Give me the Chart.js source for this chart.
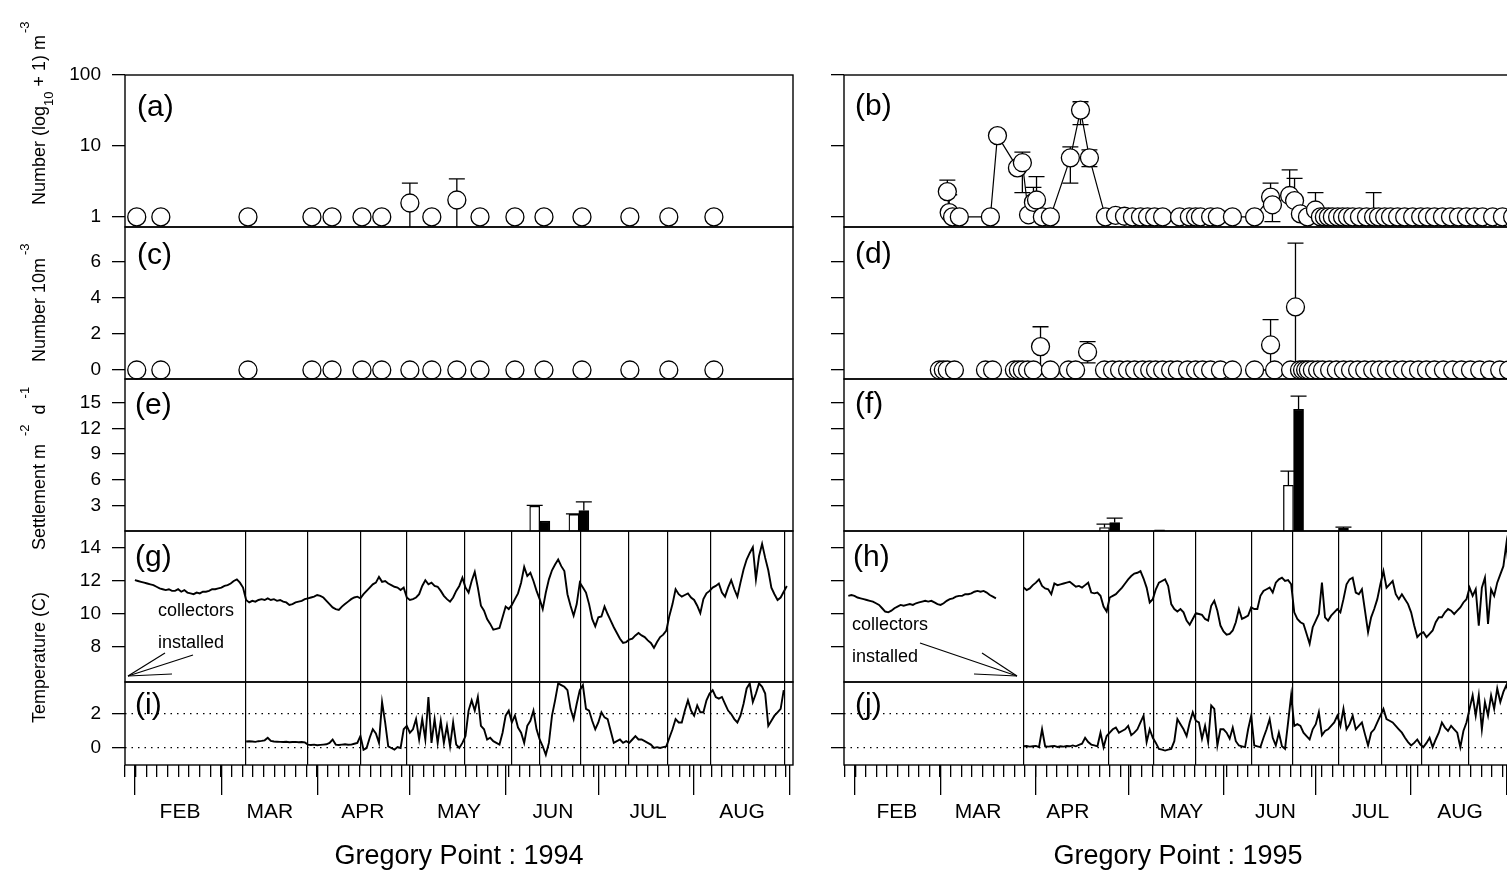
<!DOCTYPE html>
<html lang="en">
<head>
<meta charset="UTF-8" />
<title>Gregory Point : 1994 / 1995</title>
<script src="https://cdn.jsdelivr.net/npm/chart.js@4/dist/chart.umd.min.js"></script>
<style>
  html, body { margin: 0; padding: 0; background: #fff; overflow: hidden; }
  #stage { position: relative; width: 1507px; height: 870px; overflow: hidden; background: #fff; }
  #stage canvas { position: absolute; left: 0; top: 0; }
</style>
</head>
<body>
<div id="stage"></div>
<script>
// ---------- axis data ----------
const monthNames = ['FEB', 'MAR', 'APR', 'MAY', 'JUN', 'JUL', 'AUG'];
const monthMidDays94 = [46.6, 75.7, 105.8, 136.9, 167.3, 198.1, 228.5];
const monthMidDays95 = [45.8, 72.2, 101.4, 138.3, 168.9, 199.8, 228.9];
const monthStartDays = [32, 60, 91, 121, 152, 182, 213, 244];
const logTicks = [1, 10, 100];
const densTicks = [0, 2, 4, 6];
const settleTicks = [3, 6, 9, 12, 15];
const tempTicks = [8, 10, 12, 14];
const diffTicks = [0, 2];

// ---------- 1994 ----------
const sampleDays94 = [32.6, 40.4, 68.6, 89.3, 95.8, 105.5, 111.9, 121.0, 128.1, 136.2, 143.7, 155.0, 164.4, 176.7, 192.2, 204.8, 219.4];
const numLog94 = [1, 1, 1, 1, 1, 1, 1, 1.57, 1, 1.73, 1, 1, 1, 1, 1, 1, 1];
const numLog94Err = [[121.0, 1.57, 3.0, 0.6], [136.2, 1.73, 3.43, 0.6]]; // day, mean, upper, lower
const num10m94 = [0, 0, 0, 0, 0, 0, 0, 0, 0, 0, 0, 0, 0, 0, 0, 0, 0];

const settleOpenDays94 = [161.4, 174.1];
const settleOpen94 = [2.9, 1.94];
const settleFilledDays94 = [164.7, 177.3];
const settleFilled94 = [1.15, 2.4];
const settle94Err = [[161.4, 2.9, 3.0, null], [174.1, 1.94, 2.0, null], [177.3, 2.4, 3.4, null]];

const collectorDays94 = [67.9, 88, 105.1, 120, 138.8, 154, 163, 176.3, 191.9, 204.5, 218.4, 242.4];

const temp94Start = 32; // one value per day
const temp94 = [
  12.05, 12.0, 11.95, 11.9, 11.85, 11.8, 11.75, 11.65, 11.55, 11.5,
  11.45, 11.5, 11.4, 11.4, 11.5, 11.35, 11.45, 11.3, 11.25, 11.2,
  11.3, 11.25, 11.35, 11.35, 11.4, 11.5, 11.5, 11.55, 11.6, 11.7,
  11.75, 11.85, 12.0, 12.1, 11.9, 11.6, 10.85, 10.7, 10.8, 10.75,
  10.85, 10.9, 10.85, 10.95, 10.85, 10.9, 10.8, 10.85, 10.75, 10.7,
  10.55, 10.6, 10.7, 10.75, 10.8, 10.9, 10.95, 11.0, 11.05, 11.15,
  11.1, 11.0, 10.8, 10.6, 10.4, 10.3, 10.25, 10.45, 10.6, 10.75,
  10.9, 11.0, 11.05, 10.95, 11.2, 11.4, 11.6, 11.8, 11.9, 12.25,
  11.95, 12.0, 11.85, 11.75, 11.65, 11.6, 11.45, 11.6, 11.0, 10.85,
  10.9, 11.0, 11.2, 11.7, 12.05, 11.8, 11.9, 11.7, 11.65, 11.4,
  11.1, 10.9, 10.75, 11.0, 11.4, 11.7, 12.2, 11.6, 11.3, 12.0,
  12.55, 11.6, 10.5, 10.2, 9.7, 9.4, 9.05, 9.1, 9.15, 9.8,
  10.45, 10.3, 10.55, 10.9, 11.25, 11.9, 12.85, 12.3, 12.5, 12.0,
  11.4, 10.9, 10.3, 11.3, 12.1, 12.65, 13.0, 13.3, 12.9, 12.6,
  11.2, 10.5, 9.9, 10.6, 11.9, 11.6, 11.3, 10.6, 9.7, 9.25,
  9.8, 9.85, 10.45, 10.0, 9.6, 9.2, 8.85, 8.5, 8.25, 8.3,
  8.45, 8.5, 8.7, 8.85, 8.7, 8.6, 8.4, 8.25, 7.95, 8.3,
  8.6, 8.75, 9.0, 9.9, 10.6, 11.5, 11.2, 11.05, 11.15, 11.25,
  11.0, 10.85, 10.5, 10.05, 10.9, 11.25, 11.4, 11.6, 11.7, 11.85,
  11.3, 11.05, 11.6, 12.05, 11.5, 11.05, 11.9, 12.7, 13.3, 13.7,
  14.05, 12.1, 13.5, 14.25, 13.4, 12.65, 11.6, 11.2, 10.85, 11.0,
  11.35, 11.7
];

const diff94Start = 68;
const diff94 = [
  0.38, 0.4, 0.38, 0.36, 0.4, 0.42, 0.45, 0.6, 0.42, 0.38,
  0.37, 0.36, 0.35, 0.37, 0.34, 0.35, 0.36, 0.34, 0.35, 0.33,
  0.2, 0.18, 0.2, 0.16, 0.18, 0.2, 0.22, 0.3, 0.5, 0.2,
  0.18, 0.2, 0.22, 0.19, 0.2, 0.25, 0.3, 0.7, -0.1, 0.0,
  0.6, 1.1, 0.85, 0.3, 2.7, 1.5, 0.1, 0.0, -0.1, 0.05,
  0.0, 1.1, 1.3, 0.9, 1.1, 1.7, 0.5, 1.7, 0.5, 3.0,
  0.3, 1.7, 0.3, 1.6, 0.3, 1.3, 0.1, 1.5, 0.2, 0.0,
  0.3, 0.7, 2.2, 2.8, 2.2, 3.0, 1.3, 1.1, 0.5, 0.6,
  0.4, 0.3, 0.2, 0.9, 1.9, 2.2, 1.5, 1.9, 1.2, 0.9,
  0.3, 1.3, 1.6, 2.2, 1.1, 0.5, 0.1, -0.4, 0.3, 1.9,
  2.8, 3.8, 3.7, 3.6, 3.4, 2.3, 1.7, 2.6, 3.4, 3.7,
  2.3, 2.2, 1.6, 1.1, 1.5, 2.1, 1.8, 1.7, 1.0, 0.3,
  0.4, 0.5, 0.3, 0.4, 0.3, 0.5, 0.7, 0.5, 0.5, 0.4,
  0.3, 0.2, 0.0, 0.05, 0.0, 0.05, 0.1, 0.6, 1.1, 1.7,
  1.5, 1.5, 2.2, 2.8, 2.2, 1.9, 2.5, 2.1, 2.1, 2.8,
  3.2, 3.4, 3.0, 2.9, 3.0, 2.6, 2.2, 2.0, 1.7, 1.5,
  1.9, 2.6, 3.5, 3.8, 2.7, 3.2, 3.8, 3.6, 3.2, 1.3,
  1.6, 1.9, 2.1, 2.3, 3.4
];

// ---------- 1995 ----------
const numDays95 = [
  62.2, 62.8, 63.9, 66.1, 76.2, 78.5, 85.0, 86.6, 88.6, 90.2,
  91.2, 93.1, 95.7, 102.2, 105.5, 108.4, 113.6, 116.9, 119.8, 122.4,
  125.0, 127.3, 129.6, 132.2, 137.7, 140.9, 142.9, 144.5, 147.8, 150.0,
  154.9, 162.1, 167.3, 167.9, 173.5, 175.1, 177.0, 179.3, 181.9, 183.5,
  184.8, 186.1, 187.4, 189.1, 190.7, 192.3, 194.0, 196.2, 198.5, 200.8,
  202.4, 204.4, 206.3, 208.6, 210.9, 213.5, 216.1, 218.3, 220.6, 223.2,
  225.8, 228.4, 231.0, 233.6, 236.2, 239.5, 242.7, 246.0
];
const numLog95 = [
  2.27, 1.15, 1.0, 1.0, 1.0, 14, 4.9, 5.8, 1.07, 1.6,
  1.73, 1.0, 1.0, 6.8, 32, 6.8, 1.0, 1.05, 1.02, 1.0,
  1.0, 1.0, 1.0, 1.0, 1.0, 1.0, 1.0, 1.0, 1.0, 1.0,
  1.0, 1.0, 1.9, 1.48, 2.0, 1.7, 1.1, 1.0, 1.25, 1.0,
  1.0, 1.0, 1.0, 1.0, 1.0, 1.0, 1.0, 1.0, 1.0, 1.0,
  1.0, 1.0, 1.0, 1.0, 1.0, 1.0, 1.0, 1.0, 1.0, 1.0,
  1.0, 1.0, 1.0, 1.0, 1.0, 1.0, 1.0, 1.0
];
const numLog95Err = [
  [62.2, 2.27, 3.3, null], [62.8, 1.15, 2.05, null], [86.6, 5.8, 8.2, 2.2], [90.2, 1.6, 2.6, null],
  [91.2, 1.73, 3.7, null], [102.2, 6.8, 9.7, 3.0], [105.5, 32, 42, 20], [108.4, 6.8, 8.8, 5.1],
  [167.3, 1.9, 3.0, null], [167.9, 1.48, null, 0.86], [173.5, 2.0, 4.6, null], [175.1, 1.7, 3.5, null],
  [181.9, 1.25, 2.2, null], [200.8, 1.0, 2.2, null]
];

const densDays95 = [
  59.6, 60.9, 62.2, 64.5, 74.6, 76.9, 84.0, 85.3, 86.6, 88.3,
  90.2, 92.5, 95.7, 101.6, 103.9, 107.8, 113.3, 115.9, 118.2, 120.8,
  123.1, 125.7, 128.0, 129.9, 132.2, 134.8, 137.0, 140.3, 142.9, 145.2,
  147.8, 151.0, 154.9, 162.1, 167.3, 168.6, 173.8, 175.4, 176.7, 177.7,
  178.7, 179.6, 180.9, 182.6, 184.2, 186.5, 188.7, 191.0, 193.3, 195.6,
  197.9, 200.5, 202.7, 205.0, 207.6, 210.2, 212.8, 215.4, 218.0, 220.6,
  223.5, 226.5, 229.4, 232.3, 235.3, 238.5, 241.8, 244.7
];
const dens95 = [
  0, 0, 0, 0, 0, 0, 0, 0, 0, 0,
  0, 1.3, 0, 0, 0, 1.0, 0, 0, 0, 0,
  0, 0, 0, 0, 0, 0, 0, 0, 0, 0,
  0, 0, 0, 0, 1.39, 0, 0, 3.5, 0, 0,
  0, 0, 0, 0, 0, 0, 0, 0, 0, 0,
  0, 0, 0, 0, 0, 0, 0, 0, 0, 0,
  0, 0, 0, 0, 0, 0, 0, 0
];
const dens95Err = [[92.5, 1.3, 2.4, 0], [107.8, 1.0, 1.57, 0.4], [167.3, 1.39, 2.8, 0], [175.4, 3.5, 7.05, 0]];

const settleOpenDays95 = [113.3, 173.1];
const settleOpen95 = [0.4, 5.35];
const settleFilledDays95 = [116.6, 131.2, 176.4, 191.0];
const settleFilled95 = [1.0, 0.15, 14.26, 0.3];
const settle95Err = [[113.3, 0.4, 0.8, null], [116.6, 1.0, 1.5, null], [173.1, 5.35, 7.0, null], [176.4, 14.26, 15.8, null], [191.0, 0.3, 0.45, null]];

const collectorDays95 = [87, 114.6, 129.2, 142.9, 161.1, 174.4, 189.4, 203.4, 216.4, 231.7, 244.3];

const temp95aStart = 30;
const temp95a = [
  11.1, 11.15, 11.1, 11.0, 10.95, 10.9, 10.85, 10.8, 10.75, 10.65,
  10.55, 10.35, 10.15, 10.1, 10.2, 10.35, 10.45, 10.55, 10.5, 10.55,
  10.6, 10.55, 10.65, 10.7, 10.75, 10.8, 10.75, 10.8, 10.7, 10.6,
  10.55, 10.65, 10.8, 10.9, 10.95, 11.05, 11.1, 11.1, 11.2, 11.2,
  11.25, 11.35, 11.4, 11.35, 11.4, 11.3, 11.15, 11.05, 10.95
];
const temp95bStart = 87;
const temp95b = [
  11.6, 11.45, 11.55, 11.75, 11.9, 12.1, 11.7, 11.55, 11.5, 11.2,
  11.85, 11.75, 11.8, 11.85, 11.9, 11.95, 11.8, 11.65, 11.7, 11.6,
  11.75, 11.9, 11.3, 11.25, 11.3, 11.1, 10.45, 10.15, 11.0, 11.1,
  11.2, 11.4, 11.6, 11.85, 12.1, 12.3, 12.45, 12.5, 12.6, 12.15,
  11.6, 10.7, 10.9, 11.5, 11.9, 12.0, 12.1, 11.7, 10.6, 10.3,
  10.15, 10.3, 10.1, 9.6, 9.35, 9.7, 10.05, 10.0, 9.95, 9.7,
  9.6, 10.5, 10.8, 10.2, 9.3, 8.95, 8.75, 8.8, 9.0, 9.5,
  10.3, 9.7, 9.8, 9.9, 10.4, 10.3, 10.3, 11.1, 11.4, 11.5,
  11.6, 11.3, 11.9, 12.1, 12.2, 12.0, 12.05, 11.8, 10.1, 9.7,
  9.5, 9.4, 8.8, 8.2, 9.2, 9.6, 10.0, 11.9, 9.8, 9.6,
  9.9, 10.1, 10.3, 10.1, 10.9, 11.8, 12.1, 12.2, 11.3, 11.2,
  11.5, 10.2, 8.9, 9.8, 10.3, 10.9, 11.8, 12.6, 11.6, 11.8,
  12.0, 11.2, 10.9, 11.2, 10.9, 10.6, 10.1, 9.3, 8.6, 8.8,
  8.9, 8.6, 8.8, 9.0, 9.5, 9.8, 9.8, 10.1, 10.3, 10.2,
  10.0, 10.2, 10.4, 10.7, 10.9, 11.6, 11.1, 11.5, 9.3, 11.6,
  12.2, 9.4, 11.5, 11.1, 11.9, 12.4, 12.9, 14.3, 12.2
];

const diff95Start = 87;
const diff95 = [
  0.1, 0.12, 0.08, 0.1, 0.12, 0.05, 1.1, 0.1, 0.08, 0.1,
  0.12, 0.06, 0.1, 0.08, 0.12, 0.1, 0.15, 0.1, 0.18, 0.25,
  0.6, 0.35, 0.2, 0.15, 0.1, 0.9, 0.05, 0.7, 0.9, 1.1,
  1.2, 0.9, 1.0, 1.1, 1.3, 0.75, 0.9, 1.1, 1.5, 1.9,
  0.35, 1.1, 0.6, 0.3, -0.05, -0.1, -0.15, -0.1, -0.05, 0.4,
  1.7, 1.4, 1.1, 0.7, 1.5, 2.1, 1.6, 1.5, 0.55, 1.3,
  0.35, 2.5, 2.3, 0.15, 1.1, 1.1, 0.9, 0.55, 1.2, 0.4,
  0.15, 0.1, 0.05, 1.1, 1.9, 0.15, 0.1, 0.05, 0.6, 1.1,
  1.7, 0.6, 0.15, 0.9, 0.1, -0.05, 1.5, 3.1, 1.3, 1.4,
  1.3, 0.9, 0.7, 0.5, 1.1, 1.4, 2.1, 0.75, 1.0, 1.1,
  1.3, 1.5, 1.9, 1.3, 2.3, 1.1, 1.4, 1.9, 1.1, 1.3,
  1.5, 0.8, 0.15, 0.9, 1.1, 1.5, 1.9, 2.3, 1.7, 1.6,
  1.5, 1.3, 1.1, 0.9, 0.6, 0.35, 0.15, 0.3, 0.5, 0.2,
  0.05, 0.3, 0.6, 0.05, 0.5, 0.9, 1.5, 1.2, 1.0, 1.3,
  1.1, 0.9, 0.05, 1.0, 1.5, 2.3, 3.1, 1.9, 3.1, 1.1,
  2.7, 1.9, 3.1, 2.3, 3.5, 2.7, 3.3, 3.7, 3.1
];

// ---------- layout ----------
const W = 1540, H = 870, AXIS_W = 60, INK = '#000';
const FONT = "'Liberation Sans', Arial, Helvetica, sans-serif";
Chart.defaults.font.family = FONT;
Chart.defaults.color = INK;
Chart.defaults.animation = false;

const ROWS = { num: [75, 227], dens: [227, 379], settle: [379, 531], temp: [531, 682], diff: [682, 765] };
const COL94 = { left: 125, right: 793, xMin: 28.8, xMax: 245.0, title: 'Gregory Point : 1994', labels: true, months: monthMidDays94 };
const COL95 = { left: 844, right: 1512, xMin: 28.6, xMax: 245.8, title: 'Gregory Point : 1995', labels: false, months: monthMidDays95 };

const minorTickDays = [];
for (let d = 28.8; d <= 246; d += 3.45) minorTickDays.push(d);

const stage = document.getElementById('stage');

function yAxis(type, min, max, ticks, col, dotted) {
  return {
    type, min, max, axis: 'y', position: 'left', bounds: 'data',
    afterFit: s => { s.width = AXIS_W; },
    afterBuildTicks: s => { s.ticks = ticks.map(v => ({ value: v })); },
    border: { display: false, dash: dotted ? [1.5, 5] : [] },
    grid: { drawOnChartArea: !!dotted, drawTicks: true, tickLength: 13, color: INK, lineWidth: 1.3, tickBorderDash: [] },
    ticks: { display: col.labels, padding: 11, font: { size: 19 }, color: INK, autoSkip: false, callback: v => String(v) }
  };
}

// x axis used only to place marks (ticks or vertical lines) at given days
function markAxis(col, days, weight, grid) {
  return {
    type: 'linear', axis: 'x', position: 'bottom', min: col.xMin, max: col.xMax, bounds: 'data',
    offset: false, weight,
    afterBuildTicks: s => { s.ticks = days.map(v => ({ value: v })); },
    afterFit: s => { s.height = 0; },
    border: { display: false },
    grid: Object.assign({ offset: false, color: INK }, grid),
    ticks: { display: false }
  };
}

function circles(days, vals, showLine) {
  return {
    type: 'line', xAxisID: 'x', yAxisID: 'y',
    data: days.map((d, i) => ({ x: d, y: vals[i] })),
    showLine: !!showLine, borderColor: INK, borderWidth: 1.2,
    pointStyle: 'circle', pointRadius: 9, pointHoverRadius: 9,
    pointBackgroundColor: '#fff', pointBorderColor: INK, pointBorderWidth: 1.3,
    clip: false
  };
}

function trace(start, vals) {
  return {
    type: 'line', xAxisID: 'x', yAxisID: 'y',
    data: vals.map((v, i) => ({ x: start + i, y: v })),
    borderColor: INK, borderWidth: 1.9, pointRadius: 0, tension: 0
  };
}

function bars(days, vals, fill) {
  return {
    type: 'bar', xAxisID: 'x', yAxisID: 'y',
    data: days.map((d, i) => ({ x: d, y: vals[i] })),
    backgroundColor: fill, borderColor: INK, borderWidth: 1.3,
    barThickness: 10, grouped: false
  };
}

function drawVTitle(ctx, a, t) {
  ctx.save();
  ctx.translate(a.left + t.dx, a.top + t.dy);
  ctx.rotate(-Math.PI / 2);
  ctx.textAlign = 'left';
  ctx.textBaseline = 'alphabetic';
  let x = 0;
  t.segs.forEach(s => {
    x += s.gap || 0;
    ctx.font = `${s.size}px ${FONT}`;
    ctx.fillText(s.t, x, s.shift || 0);
    x += ctx.measureText(s.t).width;
  });
  ctx.restore();
}

function decor(spec) {
  return {
    id: 'decor',
    beforeDatasetsDraw(chart) {
      if (!spec.errors) return;
      const { ctx, chartArea: a, scales } = chart;
      ctx.save();
      ctx.beginPath();
      ctx.rect(a.left, a.top, a.width, a.height);
      ctx.clip();
      ctx.strokeStyle = INK;
      ctx.lineWidth = 1.3;
      spec.errors.forEach(([d, m, hi, lo]) => {
        const px = scales.x.getPixelForValue(d);
        const py = scales.y.getPixelForValue(m);
        [hi, lo].forEach(v => {
          if (v == null) return;
          const ey = scales.y.getPixelForValue(v);
          ctx.beginPath();
          ctx.moveTo(px, py); ctx.lineTo(px, ey);
          ctx.moveTo(px - 8, ey); ctx.lineTo(px + 8, ey);
          ctx.stroke();
        });
      });
      ctx.restore();
    },
    afterDraw(chart) {
      const { ctx, chartArea: a } = chart;
      ctx.save();
      ctx.strokeStyle = INK;
      ctx.lineWidth = 1.4;
      ctx.strokeRect(a.left, a.top, a.width, a.height);
      ctx.fillStyle = INK;
      ctx.textAlign = 'left';
      ctx.textBaseline = 'middle';
      (spec.notes || []).forEach(n => {
        ctx.font = `${n.size || 30}px ${FONT}`;
        ctx.fillText(n.text, a.left + n.dx, a.top + n.dy);
      });
      if (spec.arrow) {
        ctx.lineWidth = 1.2;
        const [tx, ty] = spec.arrow.tip;
        spec.arrow.from.forEach(([fx, fy]) => {
          ctx.beginPath();
          ctx.moveTo(a.left + fx, a.top + fy);
          ctx.lineTo(a.left + tx, a.top + ty);
          ctx.stroke();
        });
      }
      if (spec.title) drawVTitle(ctx, a, spec.title);
      ctx.restore();
    }
  };
}

function makePanel(col, row, spec) {
  const [top, bottom] = ROWS[row];
  const isBottom = row === 'diff';
  const canvas = document.createElement('canvas');
  canvas.width = W;
  canvas.height = H;
  stage.appendChild(canvas);

  const scales = {
    x: { type: 'linear', axis: 'x', position: 'bottom', min: col.xMin, max: col.xMax, bounds: 'data',
         display: false, offset: false, grid: { offset: false } },
    y: spec.y
  };
  if (spec.collectors) {
    scales.xc = markAxis(col, spec.collectors, 0, { drawOnChartArea: true, drawTicks: false, lineWidth: 1.2 });
  }
  if (isBottom) {
    scales.xminor = markAxis(col, minorTickDays, 1, { drawOnChartArea: false, tickLength: 12, lineWidth: 1.3 });
    scales.xmajor = markAxis(col, monthStartDays, 2, { drawOnChartArea: false, tickLength: 30, lineWidth: 1.3 });
    scales.xmonth = {
      type: 'linear', axis: 'x', position: 'bottom', min: col.xMin, max: col.xMax, bounds: 'data',
      offset: false, weight: 10,
      afterBuildTicks: s => { s.ticks = col.months.map(v => ({ value: v })); },
      afterFit: s => { s.height = H - bottom; },
      border: { display: false },
      grid: { display: false },
      ticks: { padding: 27, font: { size: 21 }, color: INK, autoSkip: false, maxRotation: 0, minRotation: 0,
               callback: (v, i) => monthNames[i] },
      title: { display: true, text: col.title, font: { size: 27, lineHeight: 1 }, color: INK, padding: { top: 0, bottom: 0 } }
    };
  }

  new Chart(canvas, {
    type: 'line',
    data: { datasets: spec.datasets },
    options: {
      responsive: false,
      events: [],
      layout: { padding: { left: col.left - AXIS_W, right: W - col.right, top, bottom: isBottom ? 0 : H - bottom } },
      scales,
      plugins: { legend: { display: false }, tooltip: { enabled: false } }
    },
    plugins: [decor(spec)]
  });
}

// ---------- 1994 column ----------
makePanel(COL94, 'num', {
  y: yAxis('logarithmic', 0.72, 100, logTicks, COL94),
  datasets: [circles(sampleDays94, numLog94)],
  errors: numLog94Err,
  notes: [{ text: '(a)', dx: 12, dy: 33 }],
  title: { dx: -80, dy: 130, segs: [
    { t: 'Number (log', size: 18 }, { t: '10', size: 13, shift: 8 },
    { t: ' + 1) m', size: 18 }, { t: '-3', size: 13, shift: -16, gap: 2 }] }
});
makePanel(COL94, 'dens', {
  y: yAxis('linear', -0.5, 7.94, densTicks, COL94),
  datasets: [circles(sampleDays94, num10m94)],
  notes: [{ text: '(c)', dx: 12, dy: 29 }],
  title: { dx: -80, dy: 135, segs: [{ t: 'Number 10m', size: 18 }, { t: '-3', size: 13, shift: -16, gap: 3 }] }
});
makePanel(COL94, 'settle', {
  y: yAxis('linear', 0, 17.8, settleTicks, COL94),
  datasets: [bars(settleOpenDays94, settleOpen94, '#fff'), bars(settleFilledDays94, settleFilled94, INK)],
  errors: settle94Err,
  notes: [{ text: '(e)', dx: 10, dy: 27 }],
  title: { dx: -80, dy: 171, segs: [
    { t: 'Settlement m', size: 18 }, { t: '-2', size: 13, shift: -16, gap: 8 },
    { t: 'd', size: 18, gap: 10 }, { t: '-1', size: 13, shift: -16, gap: 6 }] }
});
makePanel(COL94, 'temp', {
  y: yAxis('linear', 5.88, 15.03, tempTicks, COL94),
  datasets: [trace(temp94Start, temp94)],
  collectors: collectorDays94,
  notes: [{ text: '(g)', dx: 10, dy: 27 },
          { text: 'collectors', size: 18, dx: 33, dy: 80 },
          { text: 'installed', size: 18, dx: 33, dy: 112 }],
  arrow: { tip: [3, 145], from: [[40, 122], [68, 124], [47, 143]] },
  title: { dx: -80, dy: 192, segs: [{ t: 'Temperature (C)', size: 18 }] }
});
makePanel(COL94, 'diff', {
  y: yAxis('linear', -1, 3.88, diffTicks, COL94, true),
  datasets: [trace(diff94Start, diff94)],
  collectors: collectorDays94,
  notes: [{ text: '(i)', dx: 10, dy: 24 }]
});

// ---------- 1995 column ----------
makePanel(COL95, 'num', {
  y: yAxis('logarithmic', 0.72, 100, logTicks, COL95),
  datasets: [circles(numDays95, numLog95, true)],
  errors: numLog95Err,
  notes: [{ text: '(b)', dx: 11, dy: 32 }]
});
makePanel(COL95, 'dens', {
  y: yAxis('linear', -0.5, 7.94, densTicks, COL95),
  datasets: [circles(densDays95, dens95)],
  errors: dens95Err,
  notes: [{ text: '(d)', dx: 11, dy: 28 }]
});
makePanel(COL95, 'settle', {
  y: yAxis('linear', 0, 17.8, settleTicks, COL95),
  datasets: [bars(settleOpenDays95, settleOpen95, '#fff'), bars(settleFilledDays95, settleFilled95, INK)],
  errors: settle95Err,
  notes: [{ text: '(f)', dx: 11, dy: 26 }]
});
makePanel(COL95, 'temp', {
  y: yAxis('linear', 5.88, 15.03, tempTicks, COL95),
  datasets: [trace(temp95aStart, temp95a), trace(temp95bStart, temp95b)],
  collectors: collectorDays95,
  notes: [{ text: '(h)', dx: 9, dy: 27 },
          { text: 'collectors', size: 18, dx: 8, dy: 94 },
          { text: 'installed', size: 18, dx: 8, dy: 126 }],
  arrow: { tip: [173, 145], from: [[76, 112], [138, 122], [130, 143]] }
});
makePanel(COL95, 'diff', {
  y: yAxis('linear', -1, 3.88, diffTicks, COL95, true),
  datasets: [trace(diff95Start, diff95)],
  collectors: collectorDays95,
  notes: [{ text: '(j)', dx: 11, dy: 24 }]
});
</script>
</body>
</html>
